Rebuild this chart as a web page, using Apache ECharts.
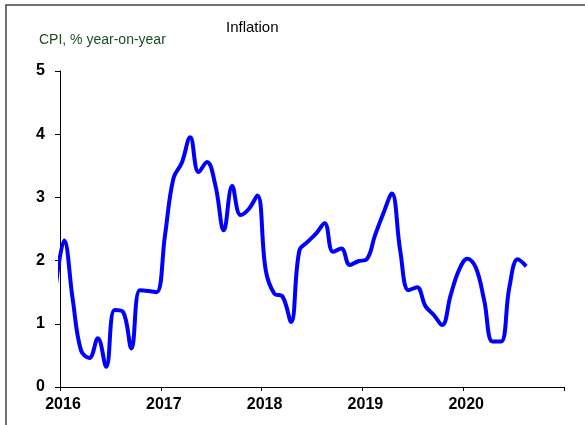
<!DOCTYPE html>
<html>
<head>
<meta charset="utf-8">
<script src="https://cdn.jsdelivr.net/npm/echarts@6/dist/echarts.min.js"></script>
<style>
html,body{margin:0;padding:0;background:#fff;}
#chart{width:585px;height:425px;}
</style>
</head>
<body>
<div id="chart"></div>
<script>
// Monthly CPI, % y/y, starting Dec 2015 (index -1 relative to Jan 2016)
const firstMonthOffset = -1;
const cpiValues = [1.6,
  2.32, 1.40, 0.58, 0.46, 0.77, 0.32, 1.22, 1.19, 0.61, 1.53, 1.52, 1.50,
  2.40, 3.30, 3.55, 3.95, 3.40, 3.56, 3.19, 2.48, 3.18, 2.72, 2.82, 3.03,
  1.84, 1.48, 1.43, 1.03, 2.16, 2.30, 2.43, 2.59, 2.14, 2.19, 1.93, 1.99,
  2.02, 2.40, 2.75, 3.06, 2.16, 1.53, 1.58, 1.28, 1.14, 0.98, 1.45, 1.85,
  2.03, 1.89, 1.37, 0.72, 0.72, 1.58, 2.02, 1.91];
const yearLabels = ['2016', '2017', '2018', '2019', '2020'];
const yTicks = [0, 1, 2, 3, 4, 5];
const titleText = 'Inflation';
const unitText = 'CPI, % year-on-year';

const seriesData = cpiValues.map((v, i) => [i + firstMonthOffset + 0.5, v]);

const chart = echarts.init(document.getElementById('chart'), null, {renderer: 'canvas'});
chart.setOption({
  animation: false,
  backgroundColor: '#ffffff',
  grid: {left: 60, right: 21, top: 71, bottom: 38},
  graphic: [
    {type: 'rect', shape: {x: 6, y: 5, width: 700, height: 500},
     style: {fill: 'none', stroke: '#444', lineWidth: 1.5}, silent: true, z: -1},
    {type: 'text', x: 226, y: 20,
     style: {text: titleText, font: '15px "Liberation Sans", Arial, sans-serif', fill: '#000',
       textVerticalAlign: 'top'}},
    {type: 'text', x: 39, y: 33,
     style: {text: unitText, font: '14px "Liberation Sans", Arial, sans-serif', fill: '#1e4d20',
       textVerticalAlign: 'top'}}
  ],
  xAxis: {
    type: 'value', min: 0, max: 60, interval: 12,
    splitLine: {show: false},
    axisLine: {lineStyle: {color: '#000', width: 1}},
    axisTick: {show: true, inside: false, length: 4, lineStyle: {color: '#000'}},
    axisLabel: {
      margin: 10, color: '#000', fontWeight: 'bold', fontSize: 16,
      fontFamily: '"Liberation Sans", Arial, sans-serif', padding: [0, 0, 0, 6],
      formatter: v => yearLabels[Math.round(v / 12)] || ''
    }
  },
  yAxis: {
    type: 'value', min: yTicks[0], max: yTicks[yTicks.length - 1], interval: 1,
    splitLine: {show: false},
    axisLine: {show: true, lineStyle: {color: '#000', width: 1}},
    axisTick: {show: true, inside: false, length: 5, lineStyle: {color: '#000'}},
    axisLabel: {
      margin: 15, color: '#000', fontWeight: 'bold', fontSize: 16,
      fontFamily: '"Liberation Sans", Arial, sans-serif'
    }
  },
  series: [{
    type: 'line', data: seriesData, smooth: 0.4, showSymbol: false, clip: true,
    lineStyle: {color: '#0000ff', width: 4}
  }]
});
</script>
</body>
</html>
